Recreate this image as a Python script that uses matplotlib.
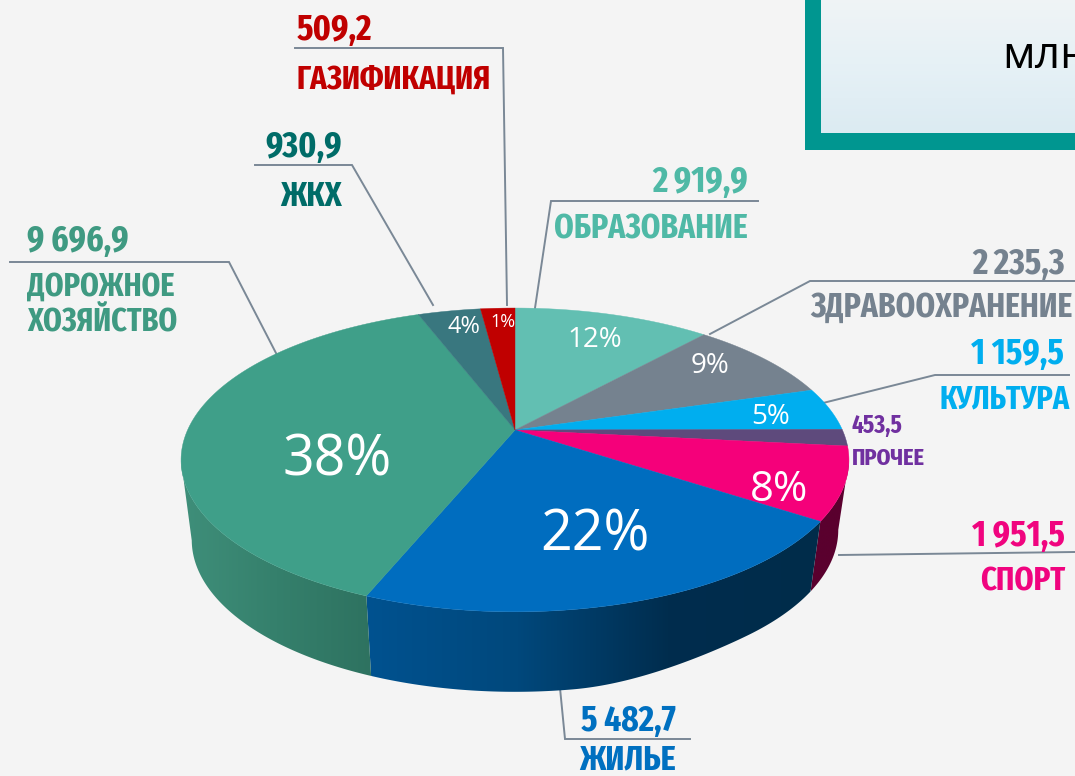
import numpy as np
import matplotlib
matplotlib.use('Agg')
import matplotlib.pyplot as plt
from matplotlib.colors import to_rgb, LinearSegmentedColormap
from matplotlib.patches import Rectangle, Polygon

# values, clockwise from 12 o'clock
names = ['ОБРАЗОВАНИЕ', 'ЗДРАВООХРАНЕНИЕ', 'КУЛЬТУРА', 'ПРОЧЕЕ', 'СПОРТ',
         'ЖИЛЬЕ', 'ДОРОЖНОЕ\nХОЗЯЙСТВО', 'ЖКХ', 'ГАЗИФИКАЦИЯ']
values = [2919.9, 2235.3, 1159.5, 453.5, 1951.5, 5482.7, 9696.9, 930.9, 509.2]
value_labels = ['2 919,9', '2 235,3', '1 159,5', '453,5', '1 951,5',
                '5 482,7', '9 696,9', '930,9', '509,2']
pct_labels = ['12%', '9%', '5%', '', '8%', '22%', '38%', '4%', '1%']

# colours
top_colors = ['#62bfb2', '#75828f', '#00aeef', '#5e4a7c', '#f5007a',
              '#006dbf', '#3f9f89', '#39777f', '#c00000']
text_colors = ['#4fb9a6', '#75828f', '#00aeef', '#7030a0', '#f0047f',
               '#0070c0', '#3f9a82', '#006c68', '#c00000']
wall_stops = {4: ['#5a002e', '#5a002e'],
              5: ['#002c4a', '#002d4e', '#00487c', '#005290'],
              6: ['#2e7260', '#35806c', '#3f8f7a']}
line_color = '#7a8896'
bg = '#f4f4f4'
cond = ['Fira Sans Extra Condensed', 'Liberation Sans', 'DejaVu Sans']
plain = ['Open Sans', 'DejaVu Sans']

# pie geometry in pixels
cx, cy = 515, 430
a, b, k = 327.4, 146.0, 0.197
wall_sx = 0.968


def project(t):
    # t is clockwise from 12 o'clock, perspective view of a flat disc
    u, v = np.sin(t), np.cos(t)
    return a * u / (1 + k * v), b * v / (1 + k * v)


fig = plt.figure(figsize=(10.75, 7.76), dpi=100, facecolor=bg)
ax = fig.add_axes([0, 0, 1, 1])
ax.set_facecolor(bg)

# box in the top right corner
ax.add_patch(Rectangle((805, -5), 300, 155, fc='#009690', ec='none', zorder=1))
grad = LinearSegmentedColormap.from_list('box', ['#f0f4f5', '#e6f1f6', '#dcebf2'])
ax.imshow(np.linspace(0, 1, 100).reshape(-1, 1), cmap=grad, aspect='auto',
          extent=(821, 1105, 133, -5), zorder=2)
ax.text(1002, 68, 'млн', family=plain, fontsize=32, color='black',
        ha='left', va='baseline', zorder=3)

# wedges
edges = np.concatenate([[0], np.cumsum(values)]) / np.sum(values) * 2 * np.pi

# side wall first, the top face covers what is behind it
for i, stops in wall_stops.items():
    t = np.linspace(edges[i], edges[i + 1], 300)
    X, Y = project(t)
    # wall stops at the outline of the disc
    if i == 4:
        keep = np.arange(len(t)) >= np.argmax(X)
    elif i == 6:
        keep = np.arange(len(t)) <= np.argmin(X)
    else:
        keep = np.ones(len(t), bool)
    X, Y = X[keep], Y[keep]
    x_top, y_top = cx + X, cy - Y
    # wall gets a bit lower towards the right
    w = np.clip((X - 60) / 180, 0, 1)
    depth = 80 - 10 * w * w * (3 - 2 * w)
    x_low, y_low = cx + X * wall_sx, cy - Y + depth
    outline = np.r_[np.c_[x_top, y_top], np.c_[x_low, y_low][::-1]]
    x0, x1 = outline[:, 0].min(), outline[:, 0].max()
    y0, y1 = outline[:, 1].min(), outline[:, 1].max()
    rgb = np.array([to_rgb(c) for c in stops])
    s = np.linspace(1, 0, 256)
    pos = np.linspace(0, 1, len(stops))
    ramp = np.stack([np.interp(s, pos, rgb[:, c]) for c in range(3)], axis=-1)[None, :, :]
    im = ax.imshow(ramp, aspect='auto', extent=(x0, x1, y1, y0), zorder=4,
                   interpolation='bilinear')
    poly = Polygon(outline, closed=True, fc='none', ec='none', transform=ax.transData)
    ax.add_patch(poly)
    im.set_clip_path(poly)

# top face
for i in range(len(values)):
    t = np.linspace(edges[i], edges[i + 1], 150)
    X, Y = project(t)
    ax.fill(np.r_[cx, cx + X], np.r_[cy, cy - Y], fc=top_colors[i],
            ec=top_colors[i], lw=0.3, zorder=5)

# percent labels
pct_pos = [(595, 338), (710, 364), (771, 415), None, (779, 487),
           (595, 532), (337, 457), (464, 325), (503, 321)]
pct_size = [20, 20, 20, 0, 30, 40, 40, 17, 13]
for lab, pos, fs in zip(pct_labels, pct_pos, pct_size):
    if lab:
        ax.text(pos[0], pos[1] + fs * 0.1, lab, family=plain, fontsize=fs,
                color='white', ha='center', va='center', zorder=6)

# leader lines
leaders = [[(295, 48), (503, 48), (507, 305)],
           [(255, 165), (352, 165), (433, 305)],
           [(535, 308), (551, 201), (758, 201)],
           [(710, 334), (810, 281), (1075, 281)],
           [(815, 405), (935, 375), (1069, 375)],
           [(839, 555), (1075, 552)],
           [(560, 688), (565, 739), (690, 739)],
           [(10, 262), (229, 262), (277, 355)]]
for pts in leaders:
    ax.plot(*zip(*pts), color=line_color, lw=1.4, zorder=3, solid_joinstyle='miter')

# category labels: value x, value y, name x, name y, alignment
label_pos = [(748, 182, 748, 229, 'right'), (1065, 264, 1072, 308, 'right'),
             (1064, 354, 1070, 400, 'right'), (852, 426, 852, 458, 'left'),
             (1065, 536, 1065, 582, 'right'), (676, 721, 676, 760, 'right'),
             (27, 241, 27, 305, 'left'), (342, 147, 342, 197, 'right'),
             (297, 30, 297, 80, 'left')]
value_size = [26, 26, 26, 18, 26, 26, 26, 26, 26]
name_size = [24.5, 24.5, 23.5, 17.5, 24, 25, 23.5, 25, 24]
for i, (xv, yv, xn, yn, ha) in enumerate(label_pos):
    ax.text(xv, yv, value_labels[i], family=cond, weight='bold', fontsize=value_size[i],
            color=text_colors[i], ha=ha, va='center', zorder=6)
    ax.text(xn, yn, names[i], family=cond, weight='bold', fontsize=name_size[i],
            color=text_colors[i], ha=ha, va='center', linespacing=1.15, zorder=6)

ax.set_xlim(0, 1075)
ax.set_ylim(776, 0)
ax.axis('off')
fig.savefig('out.png', dpi=100, facecolor=bg)
